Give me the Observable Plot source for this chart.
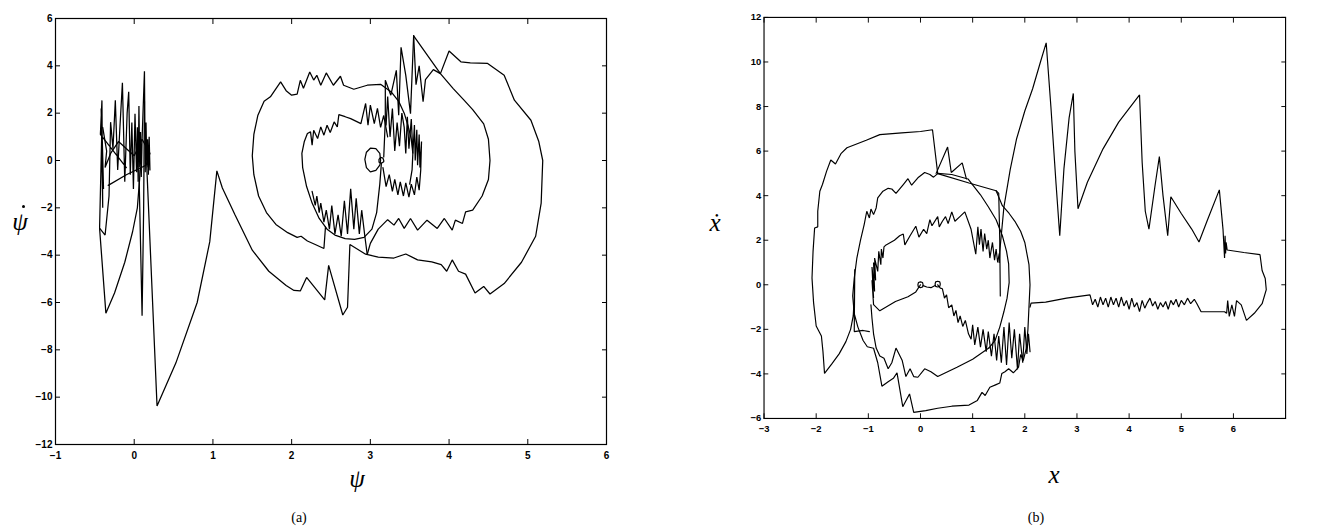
<!DOCTYPE html>
<html><head><meta charset="utf-8">
<script src="https://cdn.jsdelivr.net/npm/d3@7"></script>
<script src="https://cdn.jsdelivr.net/npm/@observablehq/plot@0.6"></script>
<style>
html,body{margin:0;padding:0;background:#fff;}
body{width:1319px;height:527px;overflow:hidden;position:relative;}
#pa{position:absolute;left:0;top:0;}
#pb{position:absolute;left:660px;top:0;}
#pa svg text,#pb svg text{font-family:"Liberation Sans",Arial,sans-serif !important;font-weight:700 !important;font-size:10px !important;fill:#000;}
.lab{position:absolute;transform:translate(-50%,-50%);font-family:"Liberation Serif","DejaVu Serif",serif;color:#000;white-space:nowrap;line-height:1;}
.it{font-style:italic;font-size:25px;}
.dot{position:absolute;width:3px;height:3px;border-radius:50%;background:#000;}
.cap{font-size:14px;}
</style></head>
<body>
<div id="pa"></div>
<div id="pb"></div>
<div class="lab it" style="left:20px;top:221px;">ψ</div>
<div class="dot" style="left:22px;top:205px;"></div>
<div class="lab it" style="left:357px;top:478px;">ψ</div>
<div class="lab cap" style="left:299px;top:518px;">(a)</div>
<div class="lab it" style="left:715px;top:222px;">ẋ</div>
<div class="lab it" style="left:1054px;top:474px;">x</div>
<div class="lab cap" style="left:1036px;top:518px;">(b)</div>
<script>
// ---------- panel (a): psi vs psi-dot ----------
const psiTicks = [-1,0,1,2,3,4,5,6];
const psiDotTicks = [-12,-10,-8,-6,-4,-2,0,2,4,6];

const psiV = [[0.16,-0.3],[0.29,-10.37],[0.53,-8.55],[0.8,-6.0],[0.96,-3.43],[1.05,-0.44],[1.12,-1.16],[1.28,-2.29],[1.5,-3.79],[1.71,-4.68],[1.93,-5.28],[2.03,-5.49],[2.11,-5.51],[2.19,-4.94],[2.42,-5.89],[2.47,-4.43],[2.65,-6.53],[2.71,-6.2],[2.74,-3.55],[2.94,-3.96],[3.1,-4.08],[3.3,-4.12],[3.45,-3.95],[3.6,-4.2],[3.78,-4.28],[3.9,-4.4],[3.97,-4.68],[4.04,-4.2],[4.12,-4.68],[4.21,-4.8],[4.33,-5.6],[4.44,-5.32],[4.52,-5.64],[4.7,-5.2],[4.92,-4.3],[5.1,-3.2],[5.17,-1.8],[5.19,0],[5.14,0.8],[5.04,1.7],[4.83,2.55],[4.7,3.6],[4.49,4.1],[4.27,4.12],[4.15,4.17],[4.0,4.63],[3.89,3.67],[3.8,3.84],[3.7,3.42],[3.67,2.48],[3.62,4.0],[3.58,3.2],[3.55,5.27]];
const psiSpikes = [[3.55,5.27],[3.51,1.98],[3.45,3.6],[3.39,4.78],[3.36,1.91],[3.33,3.81],[3.26,2.76],[3.19,3.39],[3.19,1.7],[3.17,0.15]];
const psiRing2 = [[3.55,5.27],[3.89,3.67],[4.05,3.05],[4.19,2.55],[4.3,2.15],[4.44,1.55],[4.5,0.9],[4.52,0.0],[4.5,-0.8],[4.42,-1.5],[4.3,-2.1],[4.21,-2.17],[4.17,-2.66],[4.08,-2.52],[4.04,-2.94],[3.94,-2.45],[3.85,-2.87],[3.72,-2.52],[3.6,-2.94],[3.51,-2.45],[3.43,-2.87],[3.36,-2.45],[3.3,-2.73],[3.22,-2.5],[3.1,-2.9],[3.0,-3.5],[2.96,-3.97]];
const psiRingOut = [[3.5,-1.0],[3.53,-0.4],[3.54,0.3],[3.52,0.9],[3.48,1.45],[3.43,2.0],[3.36,2.5],[3.27,2.88],[3.2,3.05],[3.13,3.22],[2.96,3.18],[2.79,3.01],[2.66,3.18],[2.62,3.56],[2.53,3.18],[2.44,3.7],[2.37,3.18],[2.32,3.6],[2.28,3.4],[2.23,3.74],[2.15,3.05],[2.11,3.39],[2.07,2.8],[2.0,2.76],[1.93,2.95],[1.86,3.32],[1.73,2.69],[1.65,2.5],[1.57,1.9],[1.52,1.1],[1.5,0.2],[1.52,-0.6],[1.58,-1.5],[1.68,-2.2],[1.8,-2.7],[1.95,-3.05],[2.07,-3.25],[2.12,-3.2],[2.2,-3.4],[2.3,-3.55],[2.41,-3.72],[2.43,-2.8]];
const psiRingIn = [[3.14,-0.12],[3.12,-1.0],[3.08,-2.2],[3.02,-2.9],[2.92,-3.25],[2.8,-3.33],[2.68,-3.3],[2.55,-3.15],[2.45,-2.9],[2.35,-2.45],[2.26,-1.8],[2.19,-1.1],[2.14,-0.3],[2.13,0.3],[2.16,0.79],[2.2,1.14],[2.24,1.21],[2.26,0.65],[2.28,1.28],[2.33,0.93],[2.37,1.42],[2.41,1.07],[2.45,1.49],[2.49,1.18],[2.54,1.63],[2.58,1.42],[2.6,1.94],[2.68,1.85],[2.75,1.77],[2.88,1.56],[2.94,2.41],[2.97,1.49],[3.0,2.34],[3.05,1.56],[3.09,2.2],[3.13,1.4],[3.17,1.9],[3.22,1.0]];
const psiTeethLow = [[2.26,-1.3],[2.3,-1.9],[2.32,-1.5],[2.35,-2.2],[2.37,-1.8],[2.41,-2.6],[2.44,-2.1],[2.48,-2.9],[2.51,-1.9],[2.55,-3.1],[2.59,-2.3],[2.63,-3.2],[2.67,-1.7],[2.71,-3.1],[2.75,-1.2],[2.79,-2.9],[2.82,-1.6],[2.86,-3.1],[2.89,-2.1],[2.93,-3.2],[2.96,-3.97]];
const psiTeethRight = [[3.16,-0.3],[3.2,-1.1],[3.24,-0.6],[3.28,-1.3],[3.31,-0.8],[3.35,-1.45],[3.38,-0.9],[3.42,-1.5],[3.45,-0.95],[3.49,-1.55],[3.52,-1.0],[3.56,-1.45],[3.59,-0.7],[3.62,-1.25],[3.64,-0.4],[3.65,0.8],[3.63,-0.3],[3.62,1.1],[3.6,-0.2],[3.59,1.3],[3.57,0.0],[3.56,1.5],[3.54,0.3],[3.52,1.75],[3.49,0.5],[3.47,1.85],[3.45,0.3],[3.43,1.4],[3.4,2.0],[3.37,0.6],[3.34,1.6],[3.31,0.4],[3.28,2.2],[3.25,1.0],[3.22,2.7],[3.2,1.5]];
const psiLoopSmall = [[3.13,0.0],[3.12,0.3],[3.07,0.5],[3.0,0.52],[2.95,0.35],[2.93,0.05],[2.95,-0.3],[3.0,-0.48],[3.07,-0.42],[3.12,-0.2],[3.13,0.0]];
const psiLoopTiny = [[3.17,0.0],[3.16,0.1],[3.13,0.13],[3.11,0.05],[3.11,-0.07],[3.14,-0.12],[3.17,-0.05],[3.17,0.0]];
const psiCluster = [[-0.1,-0.3],[-0.43,1.1],[-0.41,2.54],[-0.4,-2.0],[-0.42,2.2],[-0.39,-1.2],[-0.41,1.5],[-0.44,-2.86],[-0.37,-3.15],[-0.32,-1.5],[-0.3,1.62],[-0.27,0.5],[-0.24,2.54],[-0.21,-0.4],[-0.18,1.5],[-0.15,3.28],[-0.12,-0.9],[-0.09,2.0],[-0.07,2.9],[-0.05,-0.6],[-0.03,1.6],[-0.01,-1.2],[0.01,1.97],[0.03,-0.5],[0.04,1.4],[0.05,-0.9],[0.06,2.3],[0.07,-0.3],[0.08,1.2],[0.09,-0.7],[0.1,0.9],[0.13,3.77],[0.14,-0.5],[0.15,1.6],[0.16,-0.3],[0.17,0.9],[0.18,-0.6],[0.19,1.0],[0.2,-0.4]];
const psiClusterNet = [[-0.33,-1.05],[-0.1,-0.6],[0.15,-0.2],[0.2,0.3],[0.1,0.9],[0.0,0.2],[-0.2,0.8],[-0.3,0.3],[-0.37,-0.3],[-0.35,0.4],[-0.4,1.4]];
const psiClusterV = [[-0.44,-2.86],[-0.36,-6.45],[-0.25,-5.6],[-0.12,-4.3],[-0.02,-3.0],[0.04,-2.0],[0.08,-0.3]];
const psiClusterSpike = [[0.06,-0.4],[0.1,-6.56],[0.12,-2.0],[0.13,2.5]];

// ---------- panel (b): x vs x-dot ----------
const xTicks = [-3,-2,-1,0,1,2,3,4,5,6];
const xDotTicks = [-6,-4,-2,0,2,4,6,8,10,12];

const xOuter = [[0.33,5.0],[0.23,6.96],[0.0,6.88],[-0.36,6.82],[-0.78,6.74],[-1.04,6.49],[-1.41,6.15],[-1.52,5.9],[-1.63,5.42],[-1.72,5.6],[-1.8,5.1],[-1.88,4.5],[-1.93,4.2],[-1.97,3.3],[-1.97,2.6],[-2.03,2.55],[-2.06,1.5],[-2.08,0.3],[-2.05,-0.8],[-2.0,-1.85],[-1.9,-2.3],[-1.87,-3.0],[-1.84,-3.98],[-1.7,-3.55],[-1.56,-3.1],[-1.43,-2.55],[-1.34,-2.0],[-1.29,-1.4],[-1.27,-0.6],[-1.26,0.7],[-1.27,-2.1],[-1.1,-2.05],[-0.98,-2.1]];
const xMid = [[1.45,4.22],[0.93,4.57],[0.33,4.99],[0.25,4.83],[0.18,4.95],[0.08,5.04],[-0.05,4.8],[-0.17,4.47],[-0.24,4.76],[-0.33,4.5],[-0.47,4.1],[-0.55,4.3],[-0.62,4.33],[-0.72,4.2],[-0.82,3.9],[-0.85,3.45],[-0.9,3.15],[-0.95,3.4],[-0.98,3.0],[-1.03,3.3],[-1.08,2.7],[-1.15,2.0],[-1.22,1.2],[-1.27,0.3],[-1.3,-0.5],[-1.27,-1.3],[-1.2,-1.9],[-1.1,-2.5],[-1.02,-2.78],[-0.9,-2.85],[-0.82,-3.5],[-0.74,-4.55],[-0.62,-4.35],[-0.52,-4.2],[-0.45,-3.95],[-0.34,-5.47],[-0.21,-4.9],[-0.13,-5.73],[0.1,-5.65],[0.33,-5.54],[0.6,-5.45],[0.93,-5.4],[1.09,-5.19],[1.18,-4.83],[1.24,-4.97],[1.33,-4.6],[1.45,-4.48],[1.52,-4.41],[1.56,-3.98],[1.62,-3.9],[1.69,-3.77],[1.78,-3.95],[1.88,-3.7],[1.92,-3.13],[1.97,-3.4],[2.03,-2.84],[2.06,-2.0],[2.08,-1.0],[2.1,0.0],[2.08,0.9],[2.0,1.9],[1.92,2.4],[1.81,2.85],[1.7,3.2],[1.57,3.55],[1.45,4.22]];
const xInnerTop = [[0.0,0.0],[-0.09,-0.32],[-0.24,-0.54],[-0.48,-0.75],[-0.78,-1.17],[-0.9,-0.89],[-0.93,0.2],[-0.9,-0.6],[-0.93,0.8],[-0.88,-0.3],[-0.9,1.0],[-0.86,0.2],[-0.88,1.2],[-0.82,0.6],[-0.8,1.5],[-0.76,0.9],[-0.75,1.6],[-0.72,1.2],[-0.7,1.7],[-0.66,1.79],[-0.5,2.0],[-0.4,2.2],[-0.33,2.28],[-0.3,1.79],[-0.2,2.2],[-0.09,2.63],[-0.03,2.14],[0.06,2.49],[0.12,2.3],[0.18,2.92],[0.22,2.65],[0.33,3.06],[0.36,2.6],[0.42,2.85],[0.48,3.06],[0.53,2.75],[0.6,3.27],[0.66,2.85],[0.75,3.05],[0.85,3.27],[0.97,2.49],[1.06,1.37],[1.1,2.6],[1.13,1.8],[1.16,2.5],[1.2,1.5],[1.23,2.3],[1.27,1.6],[1.3,2.0],[1.33,1.2],[1.38,1.9],[1.42,1.1],[1.45,1.6],[1.48,1.0],[1.51,1.4]];
const xInnerTeeth = [[0.33,0.0],[0.38,-0.15],[0.42,-0.18],[0.46,-0.6],[0.5,-0.45],[0.54,-1.03],[0.6,-0.9],[0.64,-1.4],[0.68,-1.15],[0.72,-1.7],[0.76,-1.4],[0.81,-1.87],[0.86,-1.6],[0.92,-2.2],[0.97,-2.44],[1.0,-1.8],[1.04,-2.7],[1.1,-1.9],[1.15,-2.8],[1.2,-2.0],[1.26,-3.0],[1.3,-2.1],[1.36,-3.2],[1.41,-2.2],[1.46,-3.4],[1.5,-2.3],[1.55,-3.5],[1.6,-1.9],[1.65,-3.6],[1.7,-1.7],[1.75,-3.3],[1.8,-2.0],[1.86,-3.8],[1.9,-2.2],[1.96,-3.5],[2.0,-1.9],[2.04,-3.1],[2.07,-2.2],[2.1,-3.0]];
const xInnerBottom = [[1.31,-2.84],[1.0,-3.34],[0.7,-3.7],[0.33,-4.12],[0.2,-3.9],[0.08,-3.77],[-0.05,-4.15],[-0.13,-4.12],[-0.2,-3.77],[-0.28,-4.12],[-0.35,-3.4],[-0.47,-2.84],[-0.55,-3.5],[-0.62,-3.77],[-0.7,-3.3],[-0.78,-3.2],[-0.85,-2.84],[-0.9,-2.2],[-0.93,-1.5],[-0.95,-0.9]];
const xArc = [[0.33,5.0],[0.6,4.95],[0.91,4.75],[1.15,4.04],[1.3,3.5],[1.45,2.92],[1.57,2.2],[1.65,1.5],[1.69,0.94],[1.7,0.1],[1.66,-0.6],[1.6,-1.2],[1.52,-1.9],[1.43,-2.5],[1.31,-2.84]];
const xVertical = [[1.45,4.22],[1.5,4.1],[1.52,2.0],[1.53,-0.5]];
const xTopSpikes = [[0.3,5.0],[0.52,6.18],[0.59,5.04],[0.8,5.47],[0.88,4.75]];
const xCircleL = [[0.05,0.0],[0.04,0.1],[0.0,0.13],[-0.04,0.1],[-0.05,0.0],[-0.04,-0.1],[0.0,-0.13],[0.04,-0.1],[0.05,0.0]];
const xCircleR = [[0.38,0.03],[0.37,0.13],[0.33,0.16],[0.29,0.13],[0.28,0.03],[0.29,-0.07],[0.33,-0.1],[0.37,-0.07],[0.38,0.03]];
const xLink = [[0.05,-0.04],[0.12,-0.1],[0.2,-0.13],[0.28,-0.03]];
const xRight = [[1.51,1.0],[1.52,1.5],[1.6,3.5],[1.72,5.17],[1.84,6.53],[2.0,7.8],[2.15,8.8],[2.3,10.0],[2.41,10.86],[2.5,8.0],[2.6,4.5],[2.67,2.2],[2.75,5.2],[2.85,7.5],[2.93,8.59],[2.96,6.0],[3.02,3.41],[3.2,4.6],[3.5,6.1],[3.8,7.3],[4.2,8.52],[4.25,5.5],[4.31,3.3],[4.38,2.5],[4.5,4.5],[4.58,5.75],[4.65,4.0],[4.74,2.2],[4.8,3.95],[5.0,3.2],[5.2,2.5],[5.34,1.92],[5.5,2.9],[5.73,4.26],[5.8,2.5],[5.83,1.2],[5.84,2.2],[5.85,1.4],[5.86,1.9],[5.88,1.56],[6.2,1.45],[6.51,1.35],[6.55,0.64],[6.61,0.28],[6.63,-0.22],[6.55,-0.85],[6.4,-1.28],[6.25,-1.6],[6.15,-0.9],[6.06,-0.71],[6.02,-1.42],[5.97,-0.9],[5.92,-1.42],[5.89,-0.71],[5.87,-1.28],[5.83,-1.21],[5.38,-1.21],[5.3,-0.85],[5.25,-0.65],[5.18,-0.85],[5.12,-0.6],[5.06,-0.9],[5.0,-0.7],[4.95,-1.0],[4.9,-0.65],[4.85,-0.9],[4.8,-0.7],[4.75,-1.1],[4.7,-0.75],[4.65,-1.0],[4.6,-0.8],[4.55,-1.1],[4.5,-0.75],[4.45,-0.95],[4.4,-0.6],[4.35,-0.8],[4.3,-1.05],[4.25,-0.7],[4.2,-1.2],[4.15,-0.8],[4.1,-1.0],[4.05,-0.6],[4.0,-1.1],[3.95,-0.7],[3.9,-0.95],[3.85,-0.55],[3.8,-1.0],[3.75,-0.6],[3.7,-0.9],[3.65,-0.55],[3.6,-1.0],[3.55,-0.6],[3.5,-0.9],[3.45,-0.55],[3.4,-1.0],[3.35,-0.65],[3.3,-0.9],[3.25,-0.45],[2.8,-0.6],[2.4,-0.78],[2.12,-0.82],[2.1,-1.0]];

// ---------- build tables ----------
function rows(series) {
  return Object.entries(series).flatMap(([s, pts]) => pts.map(([x, y]) => ({s, x, y})));
}
const rowsA = rows({psiV, psiSpikes, psiRing2, psiRingOut, psiRingIn, psiTeethLow, psiTeethRight, psiLoopSmall, psiLoopTiny, psiCluster, psiClusterNet, psiClusterV, psiClusterSpike});
const rowsB = rows({xOuter, xMid, xInnerTop, xInnerTeeth, xInnerBottom, xArc, xVertical, xTopSpikes, xCircleL, xCircleR, xLink, xRight});

const fmt = d => (d < 0 ? "\u2212" + (-d) : String(d));

function panel({width, marginLeft, marginRight, xDomain, yDomain, xt, yt, data}) {
  return Plot.plot({
    width, height: 470,
    marginLeft, marginRight, marginTop: 18, marginBottom: 26,
    x: {domain: xDomain},
    y: {domain: yDomain},
    style: {background: "#fff", color: "#000", overflow: "visible", fontSize: "10px", fontWeight: "bold", fontFamily: "'Liberation Sans', Arial, sans-serif"},
    marks: [
      Plot.line(data, {x: "x", y: "y", z: "s", stroke: "#000", strokeWidth: 1.25, strokeLinejoin: "miter", clip: true}),
      Plot.frame({stroke: "#000", strokeWidth: 1.2}),
      Plot.axisX({ticks: xt, anchor: "bottom", tickSize: -5, tickPadding: 12, tickFormat: fmt, label: null, fontWeight: "bold"}),
      Plot.axisX({ticks: xt, anchor: "top", tickSize: -5, tickFormat: () => "", label: null}),
      Plot.axisY({ticks: yt, anchor: "left", tickSize: -5, tickPadding: 8, tickFormat: fmt, label: null, fontWeight: "bold"}),
      Plot.axisY({ticks: yt, anchor: "right", tickSize: -5, tickFormat: () => "", label: null})
    ]
  });
}

document.getElementById("pa").append(panel({
  width: 660, marginLeft: 55, marginRight: 54,
  xDomain: [-1, 6], yDomain: [-12, 6], xt: psiTicks, yt: psiDotTicks, data: rowsA
}));
document.getElementById("pb").append(panel({
  width: 700, marginLeft: 110, marginRight: 36,
  xDomain: [-3, 7], yDomain: [-6, 12], xt: xTicks, yt: xDotTicks, data: rowsB
}));
</script>
</body></html>
